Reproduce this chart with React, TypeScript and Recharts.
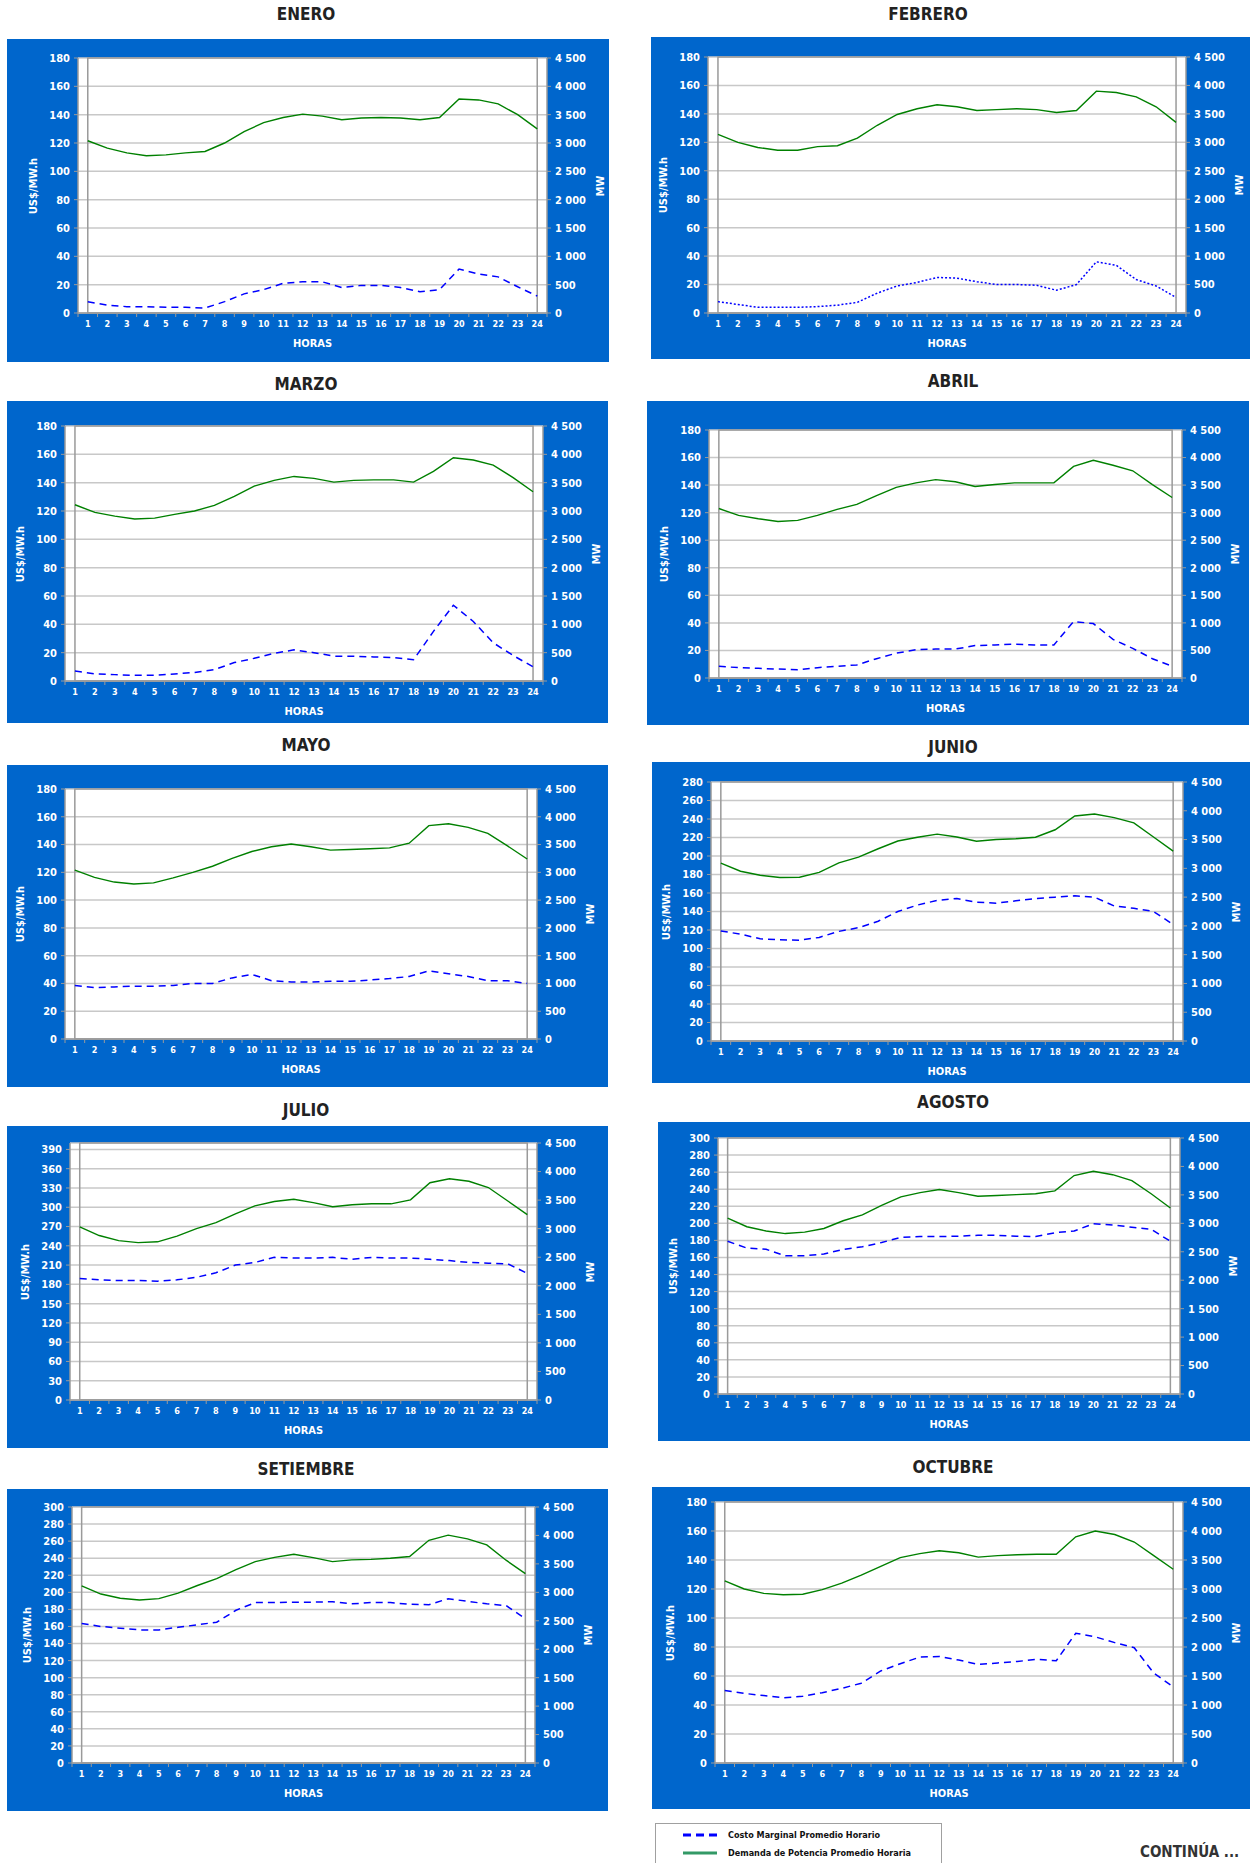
import { CartesianGrid, ComposedChart, Line, ReferenceArea, XAxis, YAxis } from "recharts";

const horas = [1, 2, 3, 4, 5, 6, 7, 8, 9, 10, 11, 12, 13, 14, 15, 16, 17, 18, 19, 20, 21, 22, 23, 24];

const ticks180 = [0, 20, 40, 60, 80, 100, 120, 140, 160, 180];
const ticks280 = [0, 20, 40, 60, 80, 100, 120, 140, 160, 180, 200, 220, 240, 260, 280];
const ticks300 = [0, 20, 40, 60, 80, 100, 120, 140, 160, 180, 200, 220, 240, 260, 280, 300];
const ticks390 = [0, 30, 60, 90, 120, 150, 180, 210, 240, 270, 300, 330, 360, 390];
const ticksMW = [0, 500, 1000, 1500, 2000, 2500, 3000, 3500, 4000, 4500];

// Costo marginal (US$/MW.h) y demanda (MW) por hora
const eneroCosto = [8, 5.5, 4.5, 4.5, 4, 4, 3.5, 8, 13.5, 16.5, 21, 22, 22, 18, 19.5, 19.5, 18, 15, 16.5, 31, 27.5, 25.5, 18.5, 12];
const eneroDemanda = [3040, 2910, 2825, 2775, 2790, 2825, 2850, 3000, 3200, 3360, 3450, 3510, 3475, 3410, 3440, 3450, 3440, 3410, 3450, 3775, 3760, 3690, 3500, 3250];

const febreroCosto = [8, 6, 4, 4, 4, 4.5, 5.5, 7.5, 14, 19, 21.5, 25, 24.5, 22, 20, 20, 19.5, 16, 20, 36, 33.5, 23.5, 19, 11];
const febreroDemanda = [3140, 3000, 2910, 2860, 2860, 2925, 2940, 3075, 3300, 3490, 3590, 3660, 3625, 3560, 3575, 3590, 3575, 3525, 3560, 3900, 3875, 3800, 3625, 3350];

const marzoCosto = [7, 5, 4.5, 4, 4, 5, 6, 8, 13, 16, 19.5, 22, 20, 17.5, 17.5, 17, 16.5, 15, 35, 53.5, 42, 27, 18, 10];
const marzoDemanda = [3110, 2975, 2910, 2860, 2875, 2940, 3000, 3100, 3260, 3440, 3540, 3610, 3575, 3510, 3540, 3550, 3550, 3510, 3700, 3940, 3900, 3810, 3590, 3340];

const abrilCosto = [8.5, 7.5, 7, 6.5, 6, 7.5, 8.5, 9.5, 14, 18, 20.5, 21, 21, 23.5, 24, 24.5, 24, 24, 41, 39.5, 28, 21.5, 14, 8.5];
const abrilDemanda = [3075, 2950, 2890, 2840, 2860, 2950, 3060, 3150, 3310, 3460, 3540, 3600, 3560, 3475, 3510, 3540, 3540, 3540, 3840, 3950, 3860, 3760, 3510, 3275];

const mayoCosto = [38.5, 37, 37.5, 38, 38, 38.5, 40, 40, 44, 46.5, 42, 41, 41, 41.5, 41.5, 42.5, 43.5, 45, 49, 47, 45, 42, 42, 40];
const mayoDemanda = [3040, 2910, 2825, 2790, 2810, 2900, 3000, 3110, 3250, 3375, 3460, 3510, 3460, 3400, 3410, 3425, 3440, 3525, 3840, 3875, 3810, 3700, 3475, 3240];

const junioCosto = [119, 115.5, 110.5, 109.5, 109, 112, 118.5, 122.5, 129.5, 140, 147, 152, 154, 150, 149, 151.5, 154, 155.5, 157, 155.5, 146, 143.5, 140, 126];
const junioDemanda = [3090, 2950, 2880, 2840, 2845, 2930, 3095, 3195, 3340, 3475, 3540, 3595, 3545, 3470, 3500, 3515, 3540, 3670, 3910, 3945, 3880, 3790, 3545, 3300];

const julioCosto = [189, 187, 186, 186, 185, 187, 191, 198, 210, 214, 222, 221, 221, 222, 219, 222, 221, 221, 219, 217, 214, 213, 212, 197];
const julioDemanda = [3030, 2880, 2790, 2755, 2770, 2870, 3000, 3105, 3260, 3400, 3475, 3515, 3455, 3385, 3420, 3435, 3435, 3505, 3805, 3875, 3830, 3720, 3485, 3245];

const agostoCosto = [179, 171, 169.5, 162, 162, 164, 169.5, 172.5, 177.5, 183.5, 184.5, 184.5, 185, 186, 186, 185, 184.5, 189, 191, 199.5, 198, 195.5, 193, 179];
const agostoDemanda = [3090, 2940, 2865, 2820, 2845, 2910, 3045, 3150, 3315, 3465, 3540, 3595, 3540, 3475, 3490, 3505, 3520, 3570, 3840, 3915, 3855, 3750, 3520, 3270];

const setiembreCosto = [163.5, 160, 158, 156, 156, 159, 162, 165, 179, 188, 188, 188.5, 188.5, 189, 186.5, 188, 188, 186, 185.5, 192.5, 189.5, 186.5, 184.5, 169];
const setiembreDemanda = [3115, 2970, 2895, 2865, 2890, 2985, 3120, 3240, 3400, 3540, 3615, 3670, 3610, 3540, 3570, 3580, 3600, 3630, 3915, 4005, 3940, 3835, 3565, 3330];

const octubreCosto = [50, 48, 46.5, 45, 46, 48.5, 51.5, 55, 63.5, 68.5, 73, 73.5, 71, 68, 69, 70, 71.5, 70.5, 89.5, 87, 83, 79.5, 62, 52.5];
const octubreDemanda = [3140, 3000, 2925, 2900, 2910, 2990, 3100, 3240, 3390, 3540, 3610, 3660, 3625, 3550, 3575, 3590, 3600, 3600, 3900, 4000, 3940, 3810, 3575, 3340];

const FONT = "'DejaVu Sans Condensed', 'DejaVu Sans', sans-serif";
const BLUE = "#0066cc";
const AXIS_GRAY = "#9a9a9a";

type PanelDef = {
  titulo: string;
  costo: number[];
  demanda: number[];
  leftMax: number;
  leftTicks: number[];
  box: [number, number, number, number];
  plot: [number, number, number, number];
  titleX: number;
  titleY: number;
  dotted?: boolean;
};

const panels: PanelDef[] = [
  { titulo: "ENERO", costo: eneroCosto, demanda: eneroDemanda, leftMax: 180, leftTicks: ticks180, box: [7, 39, 609, 362], plot: [78, 58, 547, 313], titleX: 306, titleY: 14 },
  { titulo: "FEBRERO", costo: febreroCosto, demanda: febreroDemanda, leftMax: 180, leftTicks: ticks180, box: [651, 37, 1250, 359], plot: [708, 57, 1186, 313], titleX: 928, titleY: 14, dotted: true },
  { titulo: "MARZO", costo: marzoCosto, demanda: marzoDemanda, leftMax: 180, leftTicks: ticks180, box: [7, 401, 608, 723], plot: [65, 426, 543, 681], titleX: 306, titleY: 384 },
  { titulo: "ABRIL", costo: abrilCosto, demanda: abrilDemanda, leftMax: 180, leftTicks: ticks180, box: [647, 401, 1249, 725], plot: [709, 430, 1182, 678], titleX: 953, titleY: 381 },
  { titulo: "MAYO", costo: mayoCosto, demanda: mayoDemanda, leftMax: 180, leftTicks: ticks180, box: [7, 765, 608, 1087], plot: [65, 789, 537, 1039], titleX: 306, titleY: 745 },
  { titulo: "JUNIO", costo: junioCosto, demanda: junioDemanda, leftMax: 280, leftTicks: ticks280, box: [652, 762, 1250, 1083], plot: [711, 782, 1183, 1041], titleX: 953, titleY: 747 },
  { titulo: "JULIO", costo: julioCosto, demanda: julioDemanda, leftMax: 400, leftTicks: ticks390, box: [7, 1126, 608, 1448], plot: [70, 1143, 537, 1400], titleX: 306, titleY: 1110 },
  { titulo: "AGOSTO", costo: agostoCosto, demanda: agostoDemanda, leftMax: 300, leftTicks: ticks300, box: [658, 1122, 1250, 1441], plot: [718, 1138, 1180, 1394], titleX: 953, titleY: 1102 },
  { titulo: "SETIEMBRE", costo: setiembreCosto, demanda: setiembreDemanda, leftMax: 300, leftTicks: ticks300, box: [7, 1489, 608, 1811], plot: [72, 1507, 535, 1763], titleX: 306, titleY: 1469 },
  { titulo: "OCTUBRE", costo: octubreCosto, demanda: octubreDemanda, leftMax: 180, leftTicks: ticks180, box: [652, 1487, 1250, 1809], plot: [715, 1502, 1183, 1763], titleX: 953, titleY: 1467 },
];

function formatMW(v: number) {
  if (v < 1000) return String(v);
  return `${Math.floor(v / 1000)} ${String(v % 1000).padStart(3, "0")}`;
}

const X_MARGIN = 6;

function renderXTick(props: any, bw: number) {
  const { x, y, payload, index } = props;
  const axisY = y - X_MARGIN;
  return (
    <g>
      {index === 0 && (
        <line x1={x - bw / 2} x2={x - bw / 2} y1={axisY} y2={axisY + 4} stroke={AXIS_GRAY} />
      )}
      <line x1={x + bw / 2} x2={x + bw / 2} y1={axisY} y2={axisY + 4} stroke={AXIS_GRAY} />
      <text
        x={x}
        y={axisY + 11}
        textAnchor="middle"
        dominantBaseline="central"
        fill="#fff"
        fontSize={9}
        fontWeight={700}
        fontFamily={FONT}
      >
        {payload.value}
      </text>
    </g>
  );
}

const labelStyle: React.CSSProperties = {
  position: "absolute",
  color: "#fff",
  fontFamily: FONT,
  fontWeight: 700,
  fontSize: 11,
  whiteSpace: "nowrap",
  lineHeight: 1,
};

function Panel({ p }: { p: PanelDef }) {
  const [bx1, by1, bx2, by2] = p.box;
  const [qx1, qy1, qx2, qy2] = p.plot;
  const w = bx2 - bx1;
  const h = by2 - by1;
  const bw = (qx2 - qx1) / horas.length;
  const data = horas.map((hora, i) => ({ hora, costo: p.costo[i], demanda: p.demanda[i] }));
  const midY = (qy1 + qy2) / 2 - by1;

  return (
    <>
      <div
        style={{
          position: "absolute",
          left: p.titleX,
          top: p.titleY,
          transform: "translate(-50%, -50%)",
          fontFamily: FONT,
          fontWeight: 700,
          fontSize: 17,
          color: "#222",
          whiteSpace: "nowrap",
        }}
      >
        {p.titulo}
      </div>
      <div style={{ position: "absolute", left: bx1, top: by1, width: w, height: h, background: BLUE }}>
        <ComposedChart
          width={w}
          height={h}
          data={data}
          margin={{ top: qy1 - by1, right: 0, bottom: 0, left: 0 }}
        >
          <CartesianGrid
            yAxisId="left"
            vertical={false}
            stroke="#c8c8c8"
            strokeWidth={1.5}
            fill="#ffffff"
            fillOpacity={1}
          />
          <XAxis
            dataKey="hora"
            height={by2 - qy2}
            interval={0}
            padding={{ left: bw / 2, right: bw / 2 }}
            tickSize={0}
            tickMargin={X_MARGIN}
            axisLine={{ stroke: AXIS_GRAY, strokeWidth: 1.5 }}
            tick={(props: any) => renderXTick(props, bw)}
          />
          <YAxis
            yAxisId="left"
            width={qx1 - bx1}
            domain={[0, p.leftMax]}
            ticks={p.leftTicks}
            interval={0}
            tickSize={4}
            tickMargin={4}
            axisLine={{ stroke: AXIS_GRAY, strokeWidth: 1.5 }}
            tickLine={{ stroke: AXIS_GRAY }}
            tick={{ fill: "#fff", fontSize: 11, fontWeight: 700, fontFamily: FONT }}
          />
          <YAxis
            yAxisId="right"
            orientation="right"
            width={bx2 - qx2}
            domain={[0, 4500]}
            ticks={ticksMW}
            interval={0}
            tickSize={4}
            tickMargin={4}
            tickFormatter={formatMW}
            axisLine={{ stroke: AXIS_GRAY, strokeWidth: 1.5 }}
            tickLine={{ stroke: AXIS_GRAY }}
            tick={{ fill: "#fff", fontSize: 11, fontWeight: 700, fontFamily: FONT }}
          />
          <ReferenceArea
            yAxisId="left"
            y1={0}
            y2={p.leftMax}
            fill="none"
            fillOpacity={0}
            stroke={AXIS_GRAY}
            strokeWidth={1.5}
          />
          <Line
            yAxisId="right"
            dataKey="demanda"
            type="linear"
            stroke="#008000"
            strokeWidth={1.4}
            dot={false}
            isAnimationActive={false}
          />
          <Line
            yAxisId="left"
            dataKey="costo"
            type="linear"
            stroke="#0000ff"
            strokeWidth={1.5}
            strokeDasharray={p.dotted ? "2 2" : "7 5"}
            dot={false}
            isAnimationActive={false}
          />
        </ComposedChart>
        <div
          style={{
            ...labelStyle,
            left: qx1 - bx1 - 45,
            top: midY,
            transform: "translate(-50%, -50%) rotate(-90deg)",
          }}
        >
          US$/MW.h
        </div>
        <div
          style={{
            ...labelStyle,
            left: qx2 - bx1 + 53,
            top: midY,
            transform: "translate(-50%, -50%) rotate(-90deg)",
          }}
        >
          MW
        </div>
        <div
          style={{
            ...labelStyle,
            left: (qx1 + qx2) / 2 - bx1,
            top: qy2 - by1 + 30,
            transform: "translate(-50%, -50%)",
          }}
        >
          HORAS
        </div>
      </div>
    </>
  );
}

function Leyenda() {
  const rowText: React.CSSProperties = {
    position: "absolute",
    left: 72,
    fontFamily: FONT,
    fontWeight: 700,
    fontSize: 9,
    color: "#111",
    transform: "translateY(-50%)",
    whiteSpace: "nowrap",
  };
  return (
    <div
      style={{
        position: "absolute",
        left: 655,
        top: 1823,
        width: 285,
        height: 50,
        background: "#fff",
        border: "1px solid #a0a0a0",
      }}
    >
      <svg width={60} height={40} style={{ position: "absolute", left: 20, top: 0 }}>
        <line x1={7} x2={41} y1={11} y2={11} stroke="#0000ff" strokeWidth={3} strokeDasharray="8 5" />
        <line x1={7} x2={41} y1={29} y2={29} stroke="#339966" strokeWidth={3} />
      </svg>
      <div style={{ ...rowText, top: 11 }}>Costo Marginal Promedio Horario</div>
      <div style={{ ...rowText, top: 29 }}>Demanda de Potencia Promedio Horaria</div>
    </div>
  );
}

export default function App() {
  return (
    <div
      style={{
        position: "absolute",
        left: 0,
        top: 0,
        width: 1250,
        height: 1863,
        background: "#fff",
        overflow: "hidden",
      }}
    >
      {panels.map((p) => (
        <Panel key={p.titulo} p={p} />
      ))}
      <Leyenda />
      <div
        style={{
          position: "absolute",
          left: 1140,
          top: 1845,
          fontFamily: FONT,
          fontWeight: 700,
          fontSize: 15,
          lineHeight: 1,
          color: "#333",
          whiteSpace: "nowrap",
        }}
      >
        CONTINÚA ...
      </div>
    </div>
  );
}
